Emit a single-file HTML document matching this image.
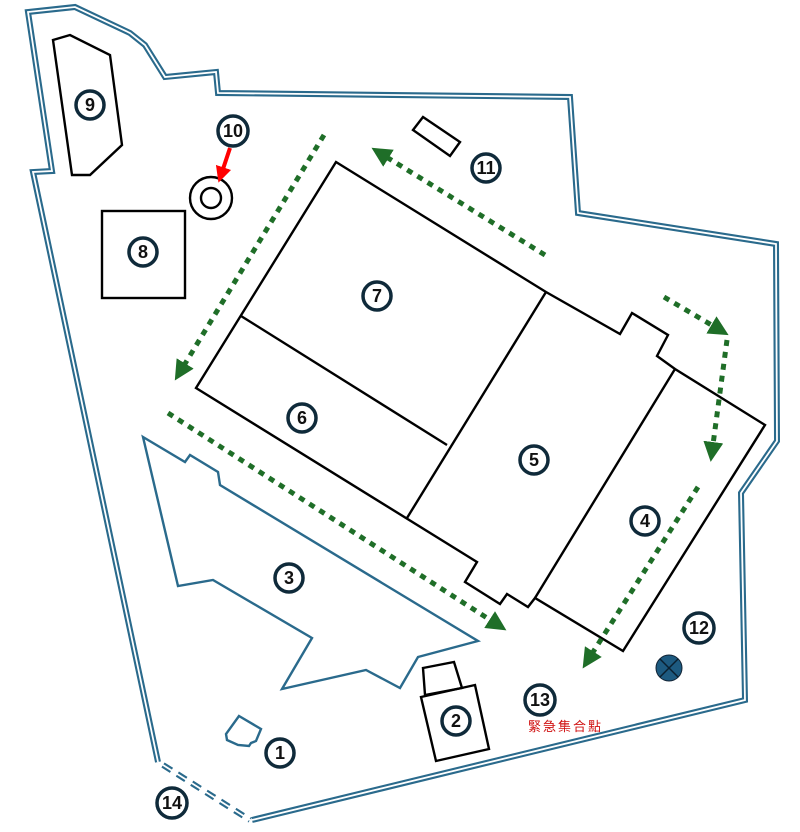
<!DOCTYPE html>
<html><head><meta charset="utf-8"><style>
html,body{margin:0;padding:0;background:#fff;}
svg{display:block;}
.l text{font-family:"Liberation Sans",sans-serif;font-weight:bold;font-size:18px;fill:#111;text-anchor:middle;}
</style></head><body>
<svg width="800" height="832" viewBox="0 0 800 832" xmlns="http://www.w3.org/2000/svg">
<defs>
<marker id="ga" viewBox="0 0 10 10" refX="5" refY="5" markerWidth="4" markerHeight="4" orient="auto" markerUnits="strokeWidth">
<path d="M0,0 L10,5 L0,10 z" fill="#1f6e28"/></marker>
<marker id="ra" viewBox="0 0 10 10" refX="5" refY="5" markerWidth="4" markerHeight="4" orient="auto" markerUnits="strokeWidth">
<path d="M0,0 L10,5 L0,10 z" fill="#f00"/></marker>
</defs>
<g fill="none" stroke-linejoin="miter">
<path d="M158,762 L33,172 L52,171 L28,12 L75,7 L130,33 L145,45 L165,77 L216,72 L218,93 L570,97 L578,213 L776,244 L777,441 L741,493 L745,700 L252,820" stroke="#2a6a8c" stroke-width="6"/>
<path d="M158,762 L33,172 L52,171 L28,12 L75,7 L130,33 L145,45 L165,77 L216,72 L218,93 L570,97 L578,213 L776,244 L777,441 L741,493 L745,700 L252,820" stroke="#fff" stroke-width="1.8"/>
<path d="M163,765 L250,820" stroke="#2a6a8c" stroke-width="6" stroke-dasharray="10 7"/>
<path d="M163,765 L250,820" stroke="#fff" stroke-width="1.8"/>
</g>
<g fill="none" stroke="#000" stroke-width="2.4">
<polygon points="53,40 70,35 110,55 122,145 90,175 72,175"/>
<rect x="102" y="211" width="83" height="87"/>
<polygon points="413,130 423,117 460,142 450,156"/>
<polygon points="196,388 477,562 465,582 500,604 507,594 528,607 535,598 623,651 765,425 675,369 657,356 668,335 632,313 620,334 546,292 336,162"/>
<line x1="241" y1="316" x2="447" y2="445"/>
<line x1="546" y1="292" x2="407" y2="518"/>
<line x1="675" y1="369" x2="535" y2="598"/>
<polygon points="423,668 454,662 462,688 425,695"/>
<polygon points="421,697 475,685 489,749 436,761"/>
<circle cx="211" cy="198" r="21"/>
<circle cx="211" cy="198" r="10"/>
</g>
<g fill="none" stroke="#2a6a8c" stroke-width="2.4">
<polygon points="143,437 185,462 190,455 218,472 220,485 478,641 418,657 400,688 366,670 282,689 312,638 213,580 178,586"/>
<polygon points="239,716 261,729 256,741 251,743 249,746 238,745 227,740 226,734"/>
</g>
<g fill="none" stroke="#1f6e28" stroke-width="5" stroke-dasharray="6 6">
<path d="M324,135 L180,372" marker-end="url(#ga)"/>
<path d="M545,255 L380,153" marker-end="url(#ga)"/>
<path d="M664,297 L720,330" marker-end="url(#ga)"/>
<path d="M727,340 L712,452" marker-end="url(#ga)"/>
<path d="M168,413 L498,625" marker-end="url(#ga)"/>
<path d="M698,487 L588,660" marker-end="url(#ga)"/>
</g>
<path d="M230,148 L221,175" stroke="#f00" stroke-width="4" fill="none" marker-end="url(#ra)"/>
<circle cx="669" cy="668" r="13" fill="#1d5a80" stroke="#123" stroke-width="1"/>
<path d="M660,659 L678,677 M678,659 L660,677" stroke="#0a2030" stroke-width="1.5"/>
<g class="l">
<g fill="#fff" stroke="#0f2a3a" stroke-width="3.5">
<circle cx="90" cy="105" r="14"/><circle cx="233" cy="131" r="15"/><circle cx="143" cy="252" r="14"/>
<circle cx="486" cy="168" r="14"/><circle cx="377" cy="296" r="14"/><circle cx="302" cy="418" r="14"/>
<circle cx="534" cy="460" r="14"/><circle cx="645" cy="521" r="14"/><circle cx="289" cy="578" r="14"/>
<circle cx="699" cy="628" r="15"/><circle cx="540" cy="700" r="15"/><circle cx="456" cy="721" r="14"/>
<circle cx="280" cy="753" r="14"/><circle cx="172" cy="803" r="15"/>
</g>
<text x="90" y="111">9</text><text x="233" y="137">10</text><text x="143" y="258">8</text>
<text x="486" y="174">11</text><text x="377" y="302">7</text><text x="302" y="424">6</text>
<text x="534" y="466">5</text><text x="645" y="527">4</text><text x="289" y="584">3</text>
<text x="699" y="634">12</text><text x="540" y="706">13</text><text x="456" y="727">2</text>
<text x="280" y="759">1</text><text x="172" y="809">14</text>
</g>
<text x="528" y="731" font-family="'Liberation Sans','Noto Sans CJK TC',sans-serif" font-size="13" fill="#d01010" letter-spacing="2">緊急集合點</text>
</svg>
</body></html>
